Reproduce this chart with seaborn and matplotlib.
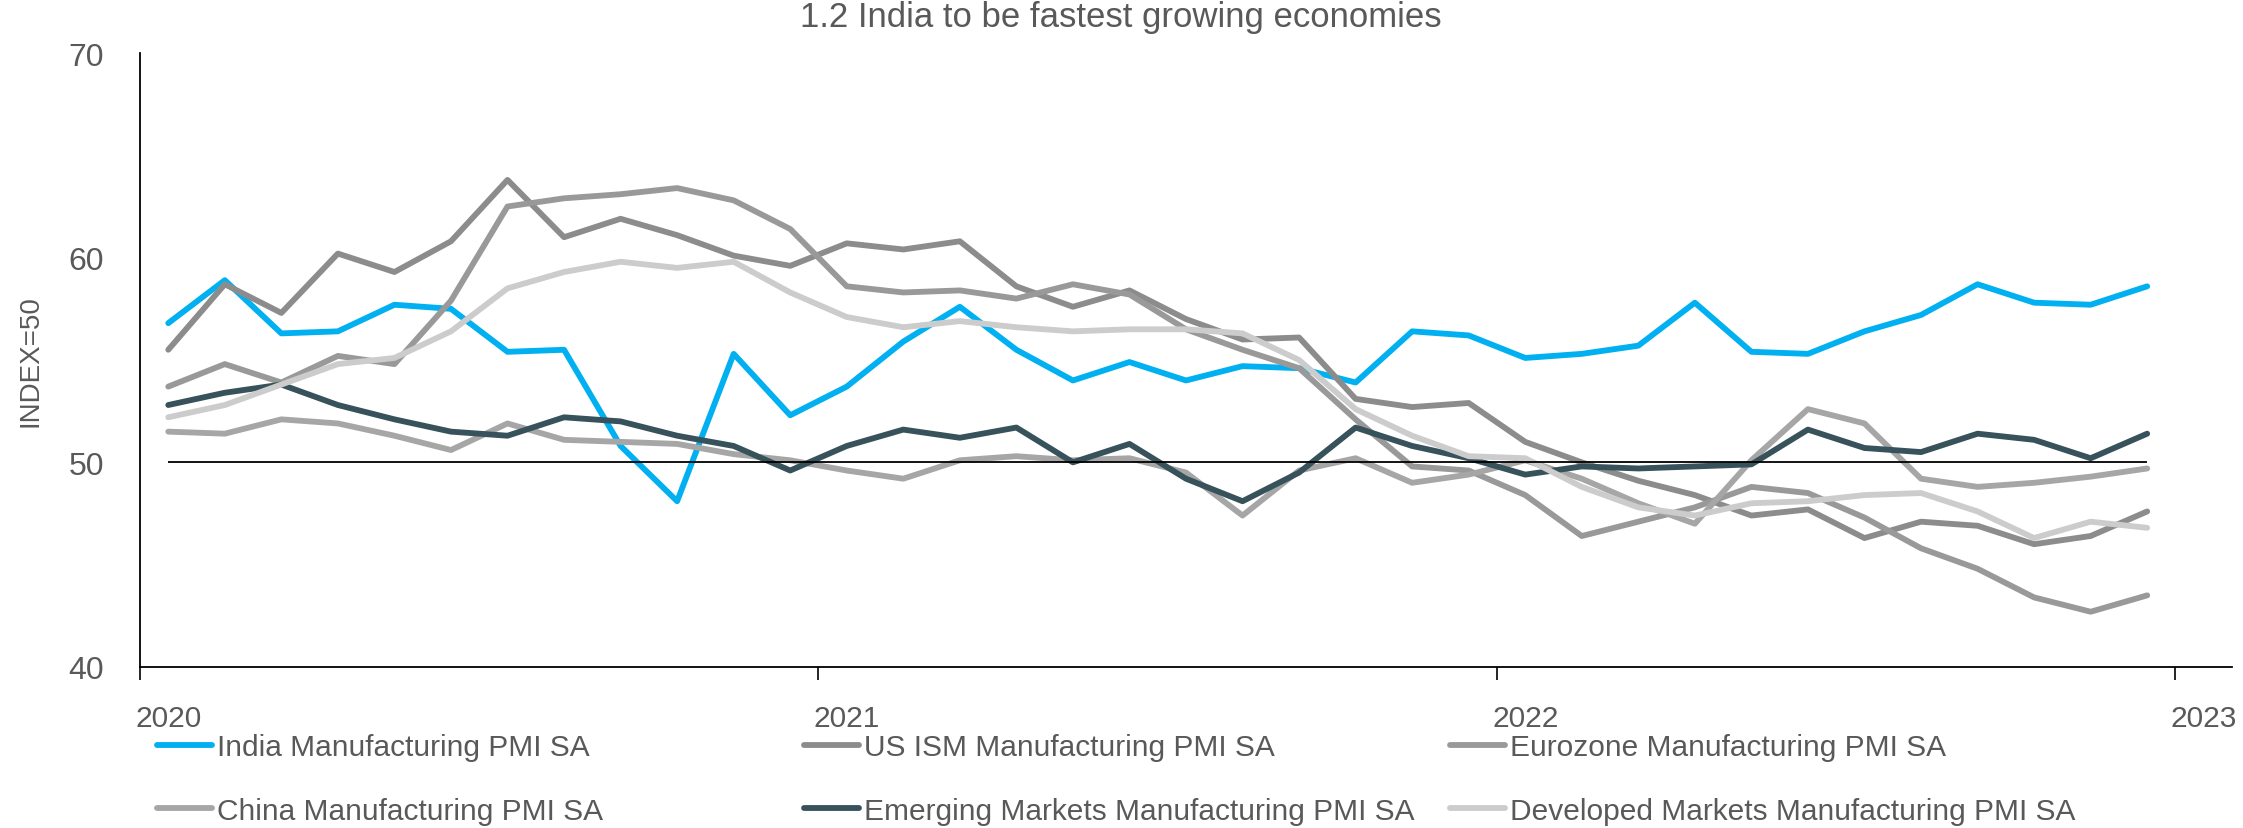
import matplotlib
matplotlib.use("Agg")
import matplotlib.pyplot as plt
import numpy as np
import pandas as pd
import seaborn as sns
from matplotlib.lines import Line2D

# Monthly categories, Jan 2020 .. Dec 2022 (one extra slot for the 2023 label)
months = pd.date_range("2020-01-01", periods=36, freq="MS").strftime("%Y-%m").tolist()
year_labels = ["2020", "2021", "2022", "2023"]

india = [56.8, 58.9, 56.3, 56.4, 57.7, 57.5, 55.4, 55.5, 50.8, 48.1, 55.3, 52.3,
         53.7, 55.9, 57.6, 55.5, 54.0, 54.9, 54.0, 54.7, 54.6, 53.9, 56.4, 56.2,
         55.1, 55.3, 55.7, 57.8, 55.4, 55.3, 56.4, 57.2, 58.7, 57.8, 57.7, 58.6]
us_ism = [55.5, 58.7, 57.3, 60.2, 59.3, 60.8, 63.8, 61.0, 61.9, 61.1, 60.1, 59.6,
          60.7, 60.4, 60.8, 58.6, 57.6, 58.4, 57.0, 56.0, 56.1, 53.1, 52.7, 52.9,
          51.0, 50.0, 49.1, 48.4, 47.4, 47.7, 46.3, 47.1, 46.9, 46.0, 46.4, 47.6]
eurozone = [53.7, 54.8, 53.9, 55.2, 54.8, 57.9, 62.5, 62.9, 63.1, 63.4, 62.8, 61.4,
            58.6, 58.3, 58.4, 58.0, 58.7, 58.2, 56.5, 55.5, 54.6, 52.1, 49.8, 49.6,
            48.4, 46.4, 47.1, 47.8, 48.8, 48.5, 47.3, 45.8, 44.8, 43.4, 42.7, 43.5]
china = [51.5, 51.4, 52.1, 51.9, 51.3, 50.6, 51.9, 51.1, 51.0, 50.9, 50.4, 50.1,
         49.6, 49.2, 50.1, 50.3, 50.1, 50.2, 49.5, 47.4, 49.6, 50.2, 49.0, 49.4,
         50.1, 49.2, 48.0, 47.0, 50.1, 52.6, 51.9, 49.2, 48.8, 49.0, 49.3, 49.7]
emerging = [52.8, 53.4, 53.8, 52.8, 52.1, 51.5, 51.3, 52.2, 52.0, 51.3, 50.8, 49.6,
            50.8, 51.6, 51.2, 51.7, 50.0, 50.9, 49.2, 48.1, 49.5, 51.7, 50.8, 50.2,
            49.4, 49.8, 49.7, 49.8, 49.9, 51.6, 50.7, 50.5, 51.4, 51.1, 50.2, 51.4]
developed = [52.2, 52.8, 53.8, 54.8, 55.1, 56.4, 58.5, 59.3, 59.8, 59.5, 59.8, 58.3,
             57.1, 56.6, 56.9, 56.6, 56.4, 56.5, 56.5, 56.3, 55.0, 52.6, 51.3, 50.3,
             50.2, 48.8, 47.8, 47.4, 48.0, 48.1, 48.4, 48.5, 47.6, 46.3, 47.1, 46.8]

series_names = [
    "India Manufacturing PMI SA",
    "US ISM Manufacturing PMI SA",
    "Eurozone Manufacturing PMI SA",
    "China Manufacturing PMI SA",
    "Emerging Markets Manufacturing PMI SA",
    "Developed Markets Manufacturing PMI SA",
]
series_values = [india, us_ism, eurozone, china, emerging, developed]
series_colors = ["#00B0F0", "#8C8C8C", "#999999", "#A6A6A6", "#37525A", "#CCCCCC"]

title = "1.2 India to be fastest growing economies"
y_label = "INDEX=50"
threshold = 50

# Long-form table for seaborn
pos = np.arange(len(months))
df = pd.concat(
    [pd.DataFrame({"pos": pos, "month": months, "value": vals, "series": name})
     for name, vals in zip(series_names, series_values)],
    ignore_index=True,
)

sns.set_theme(style="white")
plt.rcParams["font.family"] = ["Liberation Sans", "DejaVu Sans"]

W, H = 2243, 829
fig = plt.figure(figsize=(W / 100, H / 100), dpi=100)
ax = fig.add_axes([140 / W, 1 - 668 / H, (2232 - 140) / W, (668 - 54) / H])

LW = 4.2
palette = dict(zip(series_names, series_colors))
sns.lineplot(data=df, x="pos", y="value", hue="series", hue_order=series_names,
             palette=palette, legend=False, sort=False, ax=ax)
for line in ax.lines:
    line.set_linewidth(LW)
    line.set_solid_capstyle("round")
    line.set_solid_joinstyle("round")

# 50 reference line across the data range
ax.hlines(threshold, pos[0], pos[-1], color="black", linewidth=1.3, zorder=5)

text_color = "#595959"

# x axis: category axis, tick marks between years, labels under January
ax.set_xlim(-0.5, len(months) + 0.5)
ax.set_xticks([0, 12, 24, 36])
ax.set_xticklabels(year_labels)
ax.set_xticks([-0.5, 11.5, 23.5, 35.5], minor=True)
ax.tick_params(axis="x", which="major", length=0, pad=27, labelsize=21.5,
               labelcolor=text_color)
ax.tick_params(axis="x", which="minor", length=9.5, width=1.2, color="black",
               direction="out", bottom=True)

# y axis
ax.set_ylim(40, 70)
ax.set_yticks([40, 50, 60, 70])
ax.tick_params(axis="y", length=0, pad=26, labelsize=23, labelcolor=text_color)
ax.set_xlabel("")
ax.set_ylabel(y_label, fontsize=20, color=text_color)
ax.yaxis.set_label_coords(-0.046, 0.5)

for side in ["top", "right"]:
    ax.spines[side].set_visible(False)
for side in ["left", "bottom"]:
    ax.spines[side].set_color("black")
    ax.spines[side].set_linewidth(1.3)
ax.grid(False)

# Title at the top edge
fig.text(1121 / W, 1 - 1 / H, title, ha="center", va="top", fontsize=25,
         color=text_color)

# Legend laid out as a fixed 3-column grid, two rows
handles = [Line2D([0], [0], color=c, linewidth=LW, solid_capstyle="round")
           for c in series_colors]
col_x = [157, 804, 1450]
for ci, x0 in enumerate(col_x):
    idx = [ci, ci + 3]
    leg = fig.legend([handles[i] for i in idx], [series_names[i] for i in idx],
                     loc="center left", bbox_to_anchor=(x0 / W, 1 - 780 / H),
                     frameon=False, fontsize=21.5, handlelength=1.85,
                     handletextpad=0.15, labelspacing=1.2, borderpad=0,
                     borderaxespad=0)
    for t in leg.get_texts():
        t.set_color(text_color)

fig.savefig("out.png", dpi=100)
